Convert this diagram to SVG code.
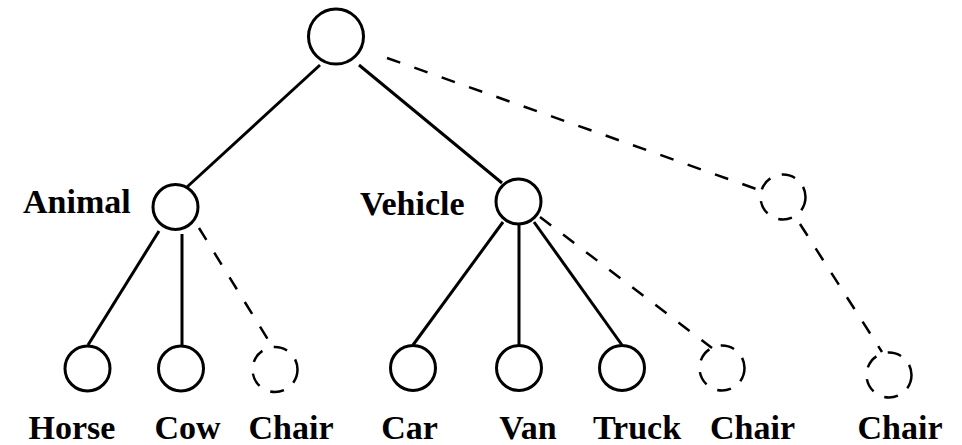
<svg xmlns="http://www.w3.org/2000/svg" width="962" height="445" viewBox="0 0 962 445">
<style>
.n{fill:none;stroke:#000;stroke-width:3}
.d{fill:none;stroke:#000;stroke-width:2.5;stroke-dasharray:14 12}
.s{stroke:#000;stroke-width:3;fill:none}
.ld{stroke:#000;stroke-width:2.5;stroke-dasharray:14 15;fill:none}
text{font-family:"Liberation Serif","Times New Roman",serif;font-weight:bold;font-size:34px;fill:#000}
.c{text-anchor:middle}
</style>
<rect width="962" height="445" fill="#fff"/>
<g id="connectors">
<line class="s" x1="320" y1="65" x2="187" y2="187"/>
<line class="s" x1="359" y1="65" x2="502" y2="183"/>
<line class="ld" x1="387" y1="58" x2="762" y2="191"/>
<line class="s" x1="159" y1="231" x2="88" y2="345"/>
<line class="s" x1="182" y1="234" x2="182" y2="345"/>
<line class="ld" x1="199" y1="228" x2="272" y2="346"/>
<line class="s" x1="503" y1="222" x2="413" y2="345"/>
<line class="s" x1="519" y1="224" x2="519" y2="345"/>
<line class="s" x1="534" y1="222" x2="622" y2="345"/>
<line class="ld" x1="540" y1="217" x2="712" y2="348"/>
<line class="ld" x1="800" y1="224" x2="882" y2="352"/>
</g>
<g id="root"><circle class="n" cx="336" cy="36.5" r="27.5"/></g>
<g id="animal"><circle class="n" cx="175.5" cy="207" r="22.5"/><text x="23" y="213">Animal</text></g>
<g id="vehicle"><circle class="n" cx="518.5" cy="201.5" r="22.5"/><text x="360" y="215">Vehicle</text></g>
<g id="chair-top"><circle class="d" cx="783" cy="197" r="22.5"/></g>
<g id="horse"><circle class="n" cx="87.5" cy="368.5" r="22.5"/><text class="c" x="72" y="439">Horse</text></g>
<g id="cow"><circle class="n" cx="181" cy="368.5" r="22.5"/><text class="c" x="187.5" y="439">Cow</text></g>
<g id="chair-animal"><circle class="d" cx="275" cy="369.5" r="22.5"/><text class="c" x="291" y="439">Chair</text></g>
<g id="car"><circle class="n" cx="413" cy="368" r="22.5"/><text class="c" x="409.5" y="439">Car</text></g>
<g id="van"><circle class="n" cx="519" cy="368" r="22.5"/><text class="c" x="528" y="439">Van</text></g>
<g id="truck"><circle class="n" cx="622" cy="368" r="22.5"/><text class="c" x="637" y="439">Truck</text></g>
<g id="chair-vehicle"><circle class="d" cx="722" cy="368" r="22.5"/><text class="c" x="752.5" y="439">Chair</text></g>
<g id="chair-root"><circle class="d" cx="889" cy="375" r="22.5"/><text class="c" x="900" y="439">Chair</text></g>
</svg>
